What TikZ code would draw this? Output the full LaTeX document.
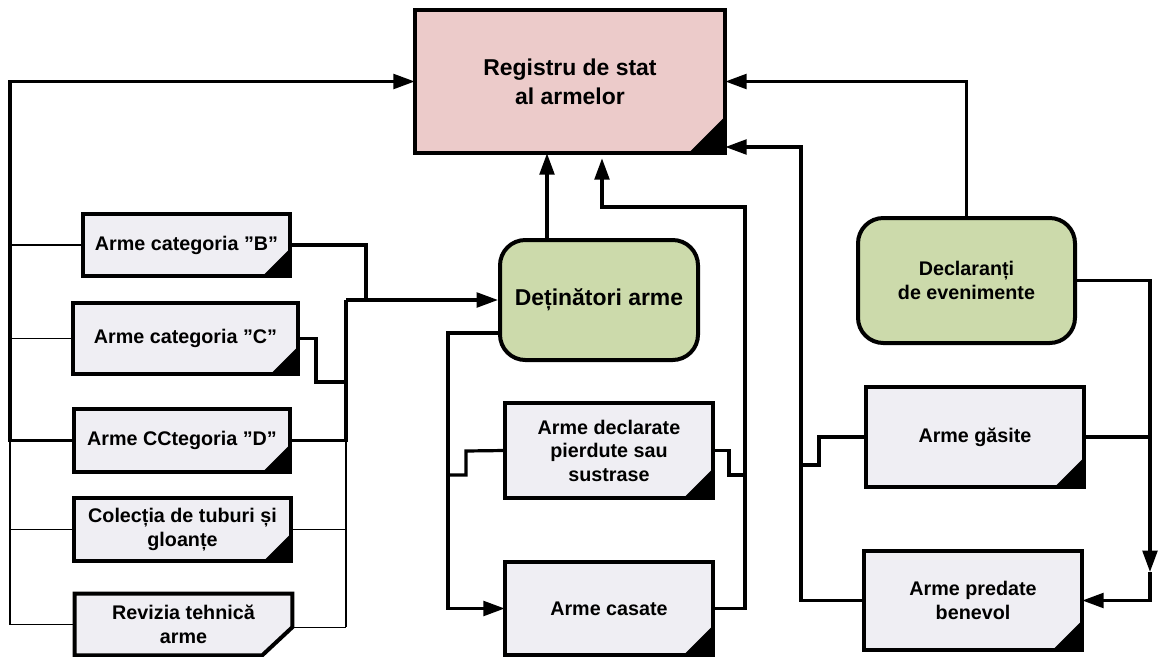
\documentclass[tikz,border=0pt]{standalone}
\usepackage{fontspec}
\setmainfont{Liberation Sans}
\usetikzlibrary{arrows.meta,calc,backgrounds}
\definecolor{pinkf}{HTML}{ECCBCA}
\definecolor{greenf}{HTML}{CCDAAB}
\definecolor{boxf}{HTML}{EFEEF3}
\begin{document}
\begin{tikzpicture}[x=0.75pt,y=-0.75pt,
  base/.style={inner sep=0pt, align=center, text=black,
    font=\bfseries\fontsize{14.8}{17.6}\selectfont},
  big/.style={font=\bfseries\fontsize{17.2}{21.8}\selectfont},
  bx/.style 2 args={base, minimum width=#1*0.75pt, minimum height=#2*0.75pt},
  border/.style={line width=3pt},
  conn/.style={line width=2.4pt},
  thinl/.style={line width=0.8pt},
  arr/.style={-{Triangle[length=16pt,width=11pt]}},
  rbox/.style={draw, line width=3pt, rounded corners=19pt, fill=greenf}
]
\useasboundingbox (0,0) rectangle (1158,657);

% nodes
\node[bx={310}{143}, big, fill=pinkf] (reg) at (570,81.5) {Registru de stat\\al armelor};
\node[bx={207}{62}, fill=boxf] (b) at (186.5,245) {Arme categoria ”B”};
\node[bx={225}{71}, fill=boxf] (c) at (185.5,338.5) {Arme categoria ”C”};
\node[bx={216}{63}, fill=boxf] (d) at (182,440.5) {Arme CCtegoria ”D”};
\node[bx={217}{63}, fill=boxf] (col) at (182.5,529.5) {Colecția de tuburi și\\gloanțe};
\node[bx={217}{61}] (rev) at (183.5,624.5) {Revizia tehnică\\arme};
\node[bx={198}{120}, big, rbox] (det) at (599,300) {Deținători arme};
\node[bx={217}{125}, rbox] (decl) at (966.5,280.5) {Declaranți\\de evenimente};
\node[bx={208}{95}, fill=boxf] (decla) at (609,450.5) {Arme declarate\\pierdute sau\\sustrase};
\node[bx={208}{93}, fill=boxf] (cas) at (609,608.5) {Arme casate};
\node[bx={218}{100}, fill=boxf] (gas) at (975,437) {Arme găsite};
\node[bx={218}{99}, fill=boxf] (pred) at (973,600.5) {Arme predate\\benevol};

% box outlines with black folded corner
\foreach \n/\k in {reg/37,b/28,c/28,d/28,col/28,decla/30,cas/30,gas/30,pred/30}{
  \fill[black] (\n.south east) -- ++(-\k,0) -- ++(\k,-\k) -- cycle;
  \draw[border] (\n.south west) rectangle (\n.north east);
}
% Revizia: cut corner
\begin{scope}[on background layer]
  \fill[boxf] (rev.north west) -- (rev.north east) -- ($(rev.south east)+(0,-28)$)
    -- ($(rev.south east)+(-30,0)$) -- (rev.south west) -- cycle;
\end{scope}
\draw[border] (rev.north west) -- (rev.north east) -- ($(rev.south east)+(0,-28)$)
    -- ($(rev.south east)+(-30,0)$) -- (rev.south west) -- cycle;

% helper coordinates
\coordinate (xL) at (10,0);
\coordinate (xJ) at (346,0);
\coordinate (xB) at (366,0);
\coordinate (xC) at (316,0);
\coordinate (xU) at (547,0);
\coordinate (xM) at (448,0);
\coordinate (xR) at (745,0);
\coordinate (xV) at (602,0);
\coordinate (xW) at (801,0);
\coordinate (xE) at (1150,0);
\coordinate (revc) at ($(rev.south east)+(0,-28)$);

% left column
\draw[conn,arr] (d.west) -| (xL |- reg.west) -- (reg.west);
\foreach \n in {b,c,col,rev}{\draw[thinl] (\n.west) -- (xL |- \n.west);}
\draw[thinl] (xL |- d.west) -- (xL |- rev.west);

\draw[conn] (b.east) -| (xB |- det.west);
\draw[conn,arr] (xJ |- det.west) -- (det.west);
\draw[conn] (c.east) -| ($(xC)+(0,382)$) -- ($(xJ)+(0,382)$);
\draw[conn] (d.east) -| (xJ |- det.west);
\draw[thinl] (col.east) -- (xJ |- col.east);
\draw[thinl] (revc) -- (xJ |- revc);
\draw[thinl] (xJ |- d.east) -- (xJ |- revc);

% Detinatori
\draw[conn,arr] (det.north -| xU) -- (reg.south -| xU);
\draw[conn,arr] ($(det.west)+(0,33)$) -| (xM |- cas.west) -- (cas.west);
\draw[conn] ($(xM)+(0,475)$) -| ($(xM)+(18,451)$) -- (decla.west);
\draw[conn] (decla.east) -| ($(xR)+(-16,475)$) -- ($(xR)+(0,475)$);
\draw[conn,arr] (cas.east) -| ($(xR)+(0,207)$) -| ($(reg.south -| xV)+(0,5)$);

% Declaranti
\draw[conn,arr] (decl.north) |- (reg.east);
\draw[conn,arr] (pred.west) -| ($(xW)+(0,147)$) -- (reg.east |- 0,147);
\draw[conn] (gas.west) -| ($(xW)+(18,465)$) -- ($(xW)+(0,465)$);
\draw[conn,arr] (decl.east) -| ($(xE)+(0,572)$);
\draw[conn] (gas.east) -- (xE |- gas.east);
\draw[conn,arr] ($(xE)+(0,572)$) |- (pred.east);
\end{tikzpicture}
\end{document}
